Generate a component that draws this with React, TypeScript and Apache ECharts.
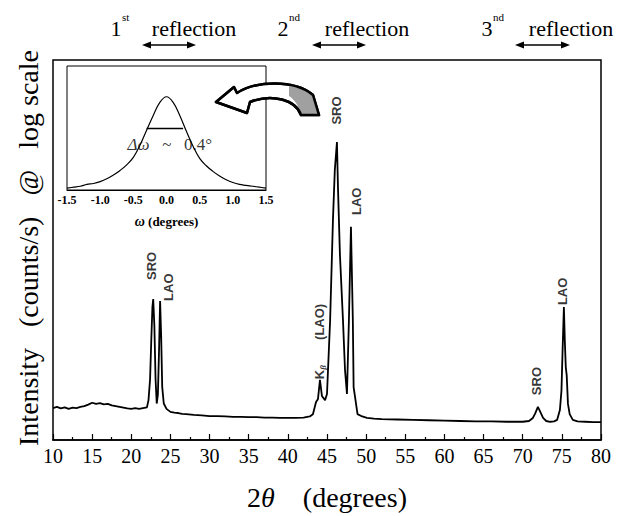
import React, { useEffect, useRef } from "react";
import * as echarts from "echarts";

// ---- main XRD scan (2θ in degrees, relative log intensity, % of axis height)
const mainX = [
  10.0, 10.5, 11.0, 11.5, 12.0, 12.5, 13.0, 13.5, 14.0, 14.5, 15.0, 15.5, 16.0, 16.5, 17.0, 17.5, 18.0, 18.5, 19.0, 19.5,
  20.0, 20.5, 21.0, 21.5, 22.0, 22.2, 22.4, 22.55, 22.7, 22.8, 22.95, 23.1, 23.25, 23.4, 23.55, 23.68, 23.82, 23.95, 24.15, 24.5,
  25.0, 25.5, 26.0, 26.5, 27.0, 28.0, 29.0, 30.0, 31.0, 32.0, 33.0, 34.0, 35.0, 36.0, 37.0, 38.0, 39.0, 40.0, 41.0, 42.0,
  42.8, 43.2, 43.6, 43.85, 44.1, 44.35, 44.75, 45.0, 45.4, 45.76, 46.0, 46.27, 46.4, 46.65, 47.04, 47.3, 47.55, 47.8, 48.06, 48.3,
  48.4, 48.9, 49.5, 50.1, 51, 52, 54, 56, 58, 60, 62, 64, 66, 68, 70, 70.8, 71.3, 71.6, 71.94, 72.2,
  72.6, 73.0, 73.5, 74.0, 74.4, 74.75, 74.95, 75.1, 75.26, 75.38, 75.5, 75.62, 75.78, 76.0, 76.4, 77, 78, 79, 80,
];
const mainY = [
  8.4, 8.7, 8.3, 8.6, 8.2, 8.5, 8.4, 8.7, 8.9, 9.3, 9.8, 9.5, 9.7, 9.4, 9.5, 9.1, 8.9, 8.7, 8.5, 8.3,
  8.2, 8.4, 8.2, 8.4, 8.6, 10.5, 16, 26, 35, 37.1, 30, 16, 9.6, 12, 24, 36.6, 27, 14, 9.6, 8.2,
  7.4, 7.2, 7.1, 6.9, 6.8, 6.6, 6.5, 6.3, 6.3, 6.2, 6.1, 6.1, 6.0, 6.0, 5.9, 5.9, 5.8, 5.8, 5.8, 5.9,
  6.2, 6.8, 10.0, 10.8, 15.8, 11.6, 10.5, 12.1, 31.6, 57.9, 71.1, 78.4, 66.6, 48.9, 31.6, 18.4, 12.1, 31.6, 56.1, 31.6,
  13.9, 6.8, 6.2, 5.8, 5.6, 5.5, 5.4, 5.3, 5.2, 5.1, 5.0, 4.9, 4.9, 4.8, 4.8, 5.0, 5.8, 7.0, 8.7, 7.6,
  5.8, 5.0, 4.8, 4.9, 5.3, 7.9, 13, 24, 35.0, 26, 19.2, 17, 9.5, 6.8, 5.3, 4.9, 4.8, 4.7, 4.7,
];

// ---- peak annotations (anchor = bottom of the vertical label)
const peakLabelX = [22.64, 24.69, 44.1, 46.27, 48.82, 71.8, 75.13];
const peakLabelY = [42.1, 36.6, 16.0, 83.0, 59.2, 11.8, 35.5];
const peakLabelText = ["SRO", "LAO", "KB", "SRO", "LAO", "SRO", "LAO"];

// ---- inset rocking curve (ω in degrees, normalised intensity)
const insetX = [
  -1.5, -1.4, -1.3, -1.2, -1.1, -1.0, -0.9, -0.8, -0.7, -0.6, -0.5, -0.4, -0.3, -0.2, -0.1, 0.0,
  0.1, 0.2, 0.3, 0.4, 0.5, 0.6, 0.7, 0.8, 0.9, 1.0, 1.1, 1.2, 1.3, 1.4, 1.5,
];
const insetY = [
  0.02, 0.03, 0.04, 0.06, 0.07, 0.09, 0.12, 0.16, 0.21, 0.27, 0.35, 0.48, 0.64, 0.8, 0.94, 1.0,
  0.94, 0.8, 0.63, 0.47, 0.34, 0.26, 0.2, 0.15, 0.11, 0.08, 0.06, 0.05, 0.04, 0.03, 0.02,
];
const fwhmStart = -0.3;
const fwhmEnd = 0.25;
const fwhmLevel = 0.66;
const fwhmText = "0.4°";

// ---- top "reflection" headings
const reflOrdinal = ["1", "2", "3"];
const reflSuffix = ["st", "nd", "nd"];

const SERIF = "'Liberation Serif', 'Times New Roman', serif";
const SANS = "'Liberation Sans', Arial, sans-serif";

const arrowPath =
  "M 216 102 L 234 87 L 237 93 C 255 81 294 79 313 95 L 319 115 L 301 115 C 296 100 272 93 250 102 L 247 113 Z";
const shadePath =
  "M 289 83 C 300 86 308 90 313 95 L 319 115 L 301 115 C 299 106 295 100 289 96 Z";

export default function App() {
  const ref = useRef<HTMLDivElement>(null);
  useEffect(() => {
    document.body.style.margin = "0";
    if (!ref.current) return;
    try {
      echarts.graphic.registerShape("curvedArrow", echarts.graphic.extendPath(arrowPath, {}));
      echarts.graphic.registerShape("curvedArrowShade", echarts.graphic.extendPath(shadePath, {}));
    } catch (e) {}
    const chart = echarts.init(ref.current, null, { renderer: "svg" });

    const T = 60;
    const reflLayout = [
      { num: 116, sup: 122, word: 194, a1: 142, a2: 196 },
      { num: 283, sup: 289, word: 367, a1: 312, a2: 366 },
      { num: 487, sup: 493, word: 571, a1: 515, a2: 570 },
    ];
    const graphics: any[] = [];
    reflLayout.forEach((l, i) => {
      graphics.push({
        type: "text", x: l.num, y: T - 32,
        style: { text: reflOrdinal[i], font: `22px ${SERIF}`, fill: "#000", align: "center", verticalAlign: "middle" },
      });
      graphics.push({
        type: "text", x: l.sup, y: T - 43,
        style: { text: reflSuffix[i], font: `11px ${SERIF}`, fill: "#000", align: "left", verticalAlign: "middle" },
      });
      graphics.push({
        type: "text", x: l.word, y: T - 32,
        style: { text: "reflection", font: `22px ${SERIF}`, fill: "#000", align: "center", verticalAlign: "middle" },
      });
      const ay = T - 15;
      graphics.push({ type: "line", shape: { x1: l.a1 + 4, y1: ay, x2: l.a2 - 4, y2: ay }, style: { stroke: "#000", lineWidth: 1.5 } });
      graphics.push({ type: "polygon", shape: { points: [[l.a1, ay], [l.a1 + 9, ay - 3.5], [l.a1 + 9, ay + 3.5]] }, style: { fill: "#000" } });
      graphics.push({ type: "polygon", shape: { points: [[l.a2, ay], [l.a2 - 9, ay - 3.5], [l.a2 - 9, ay + 3.5]] }, style: { fill: "#000" } });
    });
    graphics.push({
      type: "text", x: 28, y: 248, rotation: Math.PI / 2,
      style: {
        text: "Intensity   (counts/s)   @   log scale",
        font: `28px ${SERIF}`, fill: "#000", align: "center", verticalAlign: "middle",
      },
    });
    graphics.push({ type: "curvedArrow", x: 0, y: 0, z: 100, style: { fill: "#fff", stroke: "#000", lineWidth: 2.5, lineJoin: "round" } });
    graphics.push({ type: "curvedArrowShade", x: 0, y: 0, z: 101, style: { fill: "#a0a0a0", stroke: null } });
    graphics.push({ type: "curvedArrow", x: 0, y: 0, z: 102, style: { fill: null, stroke: "#000", lineWidth: 2.5, lineJoin: "round" } });

    chart.setOption({
      animation: false,
      backgroundColor: "#fff",
      grid: [
        { left: 53, right: 27, top: T, bottom: 73, show: true, borderColor: "#000", borderWidth: 1.5 },
        { left: 67, top: 66, width: 199, height: 124, show: true, borderColor: "#000", borderWidth: 1, backgroundColor: "transparent" },
      ],
      xAxis: [
        {
          type: "value", gridIndex: 0, min: 10, max: 80, interval: 5,
          axisLine: { show: true, lineStyle: { color: "#000", width: 1.5 } },
          axisTick: { show: true, inside: true, length: 6, lineStyle: { color: "#000", width: 1.2 } },
          minorTick: { show: true, splitNumber: 2, length: 3, lineStyle: { color: "#000", width: 1.2 } },
          splitLine: { show: false },
          axisLabel: { color: "#000", fontFamily: SERIF, fontSize: 20, margin: 6 },
          name: "2{i|θ}    (degrees)",
          nameLocation: "middle",
          nameGap: 43,
          nameTextStyle: {
            color: "#000", fontFamily: SERIF, fontSize: 28,
            rich: { i: { fontStyle: "italic", fontFamily: SERIF, fontSize: 28, color: "#000" } },
          },
        },
        {
          type: "value", gridIndex: 1, min: -1.5, max: 1.5, interval: 0.5,
          axisLine: { show: true, lineStyle: { color: "#000", width: 1 } },
          axisTick: { show: false },
          splitLine: { show: false },
          axisLabel: { color: "#000", fontFamily: SERIF, fontSize: 12, fontWeight: "bold", margin: 4, formatter: (v: number) => v.toFixed(1) },
          name: "{i|ω} (degrees)",
          nameLocation: "middle",
          nameGap: 24,
          nameTextStyle: {
            color: "#000", fontFamily: SERIF, fontSize: 13, fontWeight: "bold",
            rich: { i: { fontStyle: "italic", fontFamily: SERIF, fontSize: 14, fontWeight: "bold", color: "#000" } },
          },
        },
      ],
      yAxis: [
        { type: "value", gridIndex: 0, min: 0, max: 100, axisLine: { show: false }, axisTick: { show: false }, axisLabel: { show: false }, splitLine: { show: false } },
        { type: "value", gridIndex: 1, min: 0, max: 1.33, axisLine: { show: false }, axisTick: { show: false }, axisLabel: { show: false }, splitLine: { show: false } },
      ],
      series: [
        {
          type: "line", xAxisIndex: 0, yAxisIndex: 0, symbol: "none",
          data: mainX.map((x, i) => [x, mainY[i]]),
          lineStyle: { color: "#000", width: 1.8 },
        },
        {
          type: "scatter", xAxisIndex: 0, yAxisIndex: 0, symbolSize: 0, silent: true,
          data: peakLabelX.map((x, i) => ({ value: [x, peakLabelY[i]], name: peakLabelText[i] })),
          label: {
            show: true, position: "inside", rotate: 90, align: "left", verticalAlign: "middle",
            color: "#000", fontFamily: SANS, fontSize: 13, fontWeight: "bold",
            formatter: (p: any) => (p.name === "KB" ? "{k|K}{b|β}       {k|(LAO)}" : p.name),
            rich: {
              k: { fontFamily: SANS, fontSize: 13, fontWeight: "bold", color: "#000", lineHeight: 16 },
              b: { fontFamily: SERIF, fontSize: 9, fontStyle: "italic", fontWeight: "bold", color: "#000", verticalAlign: "bottom", lineHeight: 16 },
            },
          },
        },
        {
          type: "line", xAxisIndex: 1, yAxisIndex: 1, symbol: "none", smooth: 0.4,
          data: insetX.map((x, i) => [x, insetY[i]]),
          lineStyle: { color: "#000", width: 1.2 },
          markLine: {
            silent: true, symbol: "none", animation: false,
            lineStyle: { color: "#000", width: 1.3, type: "solid" },
            label: { show: false },
            data: [[{ coord: [fwhmStart, fwhmLevel] }, { coord: [fwhmEnd, fwhmLevel] }]],
          },
        },
        {
          type: "scatter", xAxisIndex: 1, yAxisIndex: 1, symbolSize: 0, silent: true,
          data: [{ value: [0.05, 0.49], name: fwhmText }],
          label: {
            show: true, position: "inside",
            formatter: (p: any) => `{i|Δω}   ~   {n|${p.name}}`,
            rich: {
              i: { fontFamily: SERIF, fontStyle: "italic", fontSize: 17, color: "#000" },
              n: { fontFamily: SERIF, fontSize: 17, color: "#000" },
            },
            color: "#000", fontFamily: SERIF, fontSize: 17,
          },
        },
      ],
      graphic: graphics,
    });
    return () => chart.dispose();
  }, []);
  return <div ref={ref} style={{ width: 628, height: 516, position: "absolute", left: 0, top: 0 }} />;
}
